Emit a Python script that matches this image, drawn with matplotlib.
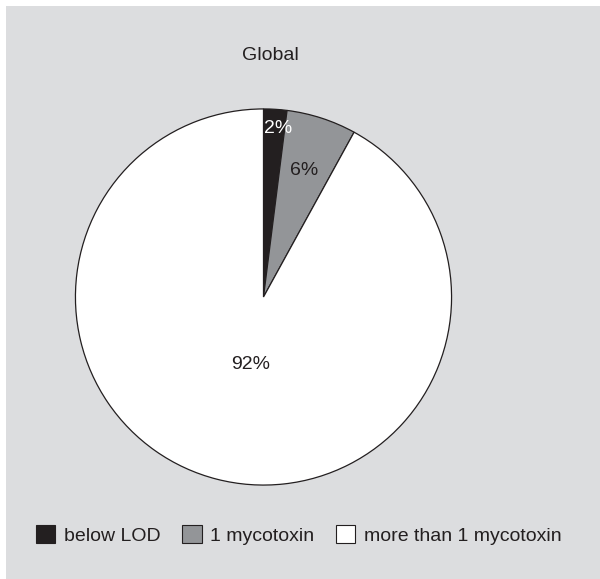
import matplotlib
matplotlib.use("Agg")
import matplotlib.pyplot as plt
from matplotlib.patches import Rectangle, Patch

# Datos
categorias = ["below LOD", "1 mycotoxin", "more than 1 mycotoxin"]
valores = [2, 6, 92]
colores = ["#231f20", "#939598", "#ffffff"]
etiquetas = ["2%", "6%", "92%"]
color_texto = ["white", "#231f20", "#231f20"]
# posicion de las etiquetas dentro del pie (radio = 1)
pos_etiquetas = [(0.077, 0.894), (0.214, 0.672), (-0.069, -0.36)]

plt.rcParams['font.family'] = ['Liberation Sans', 'DejaVu Sans']
TAM = 14

W, H = 600, 579
fig = plt.figure(figsize=(W / 100, H / 100), dpi=100)
fig.patch.set_facecolor("white")

# fondo gris
fondo = Rectangle((6 / W, 0), 1 - 6 / W, 1 - 6 / H, transform=fig.transFigure,
                  facecolor="#dcdddf", edgecolor="none", zorder=-10)
fig.add_artist(fondo)

# pie
cx, cy, r = 263.5, H - 297, 189
ax = fig.add_axes([(cx - r) / W, (cy - r) / H, 2 * r / W, 2 * r / H])
ax.set_facecolor("none")
wedges, _ = ax.pie(valores, colors=colores, startangle=90, counterclock=False,
                   radius=1, wedgeprops=dict(edgecolor="#231f20", linewidth=0.9))
ax.set_xlim(-1.005, 1.005)
ax.set_ylim(-1.005, 1.005)
ax.axis("off")

for i, (x, y) in enumerate(pos_etiquetas):
    ax.text(x, y, etiquetas[i], ha="center", va="center", fontsize=TAM,
            color=color_texto[i])

fig.text(270 / W, 1 - 56 / H, "Global", ha="center", va="center", fontsize=TAM,
         color="#231f20")

handles = [Patch(facecolor=c, edgecolor="#231f20", linewidth=0.8) for c in colores]
fig.legend(handles, categorias, loc="center left", bbox_to_anchor=(36 / W, 1 - 535 / H),
           ncol=3, frameon=False, fontsize=TAM, handlelength=1.0, handleheight=1.0,
           handletextpad=0.45, columnspacing=1.1, borderaxespad=0, borderpad=0,
           labelcolor="#231f20")

fig.savefig("out.png", dpi=100)
